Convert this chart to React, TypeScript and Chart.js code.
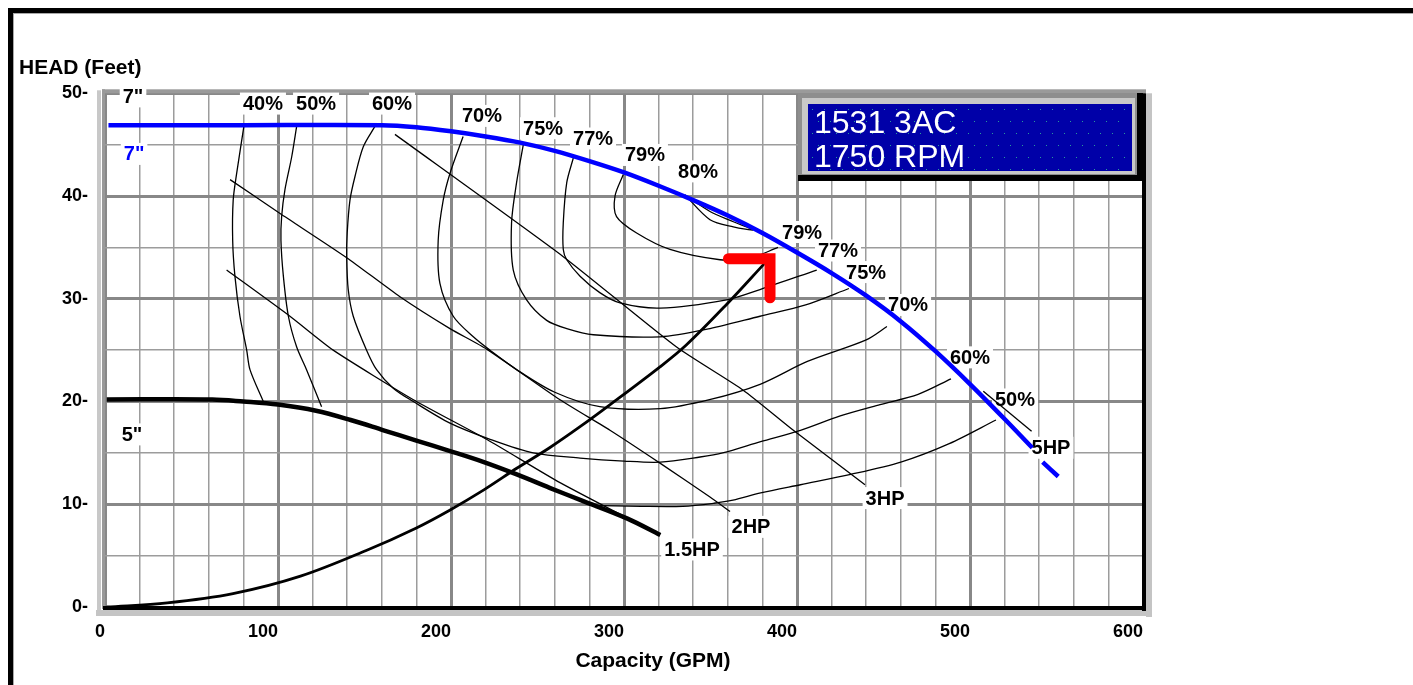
import React, { useEffect, useRef } from 'react';
import { Chart, registerables } from 'chart.js';

Chart.register(...registerables);

type Pt = [number, number | null];

// Axis tick labels
const xTickLabels = [0, 100, 200, 300, 400, 500, 600];
const yTickLabels = [0, 10, 20, 30, 40, 50];

// Impeller curves (GPM, Feet)
const impeller7: Pt[] = [[2, 46.9], [80, 46.9], [160, 46.9], [180, 46.7], [200, 46.3], [220, 45.8], [240, 45.2], [260, 44.4], [280, 43.4], [300, 42.3], [320, 41.0], [340, 39.6], [360, 38.1], [380, 36.4], [400, 34.5], [420, 32.5], [440, 30.3], [460, 27.8], [480, 24.9], [500, 21.7], [520, 18.3], [536, 15.5], [539, null], [542, 14.1], [551, 12.7]];
const impeller5: Pt[] = [[1, 20.2], [62, 20.2], [80, 20.0], [100, 19.7], [122, 19.1], [142, 18.2], [161, 17.2], [180, 16.2], [199, 15.2], [219, 14.1], [238, 12.9], [257, 11.6], [275, 10.4], [302, 8.6], [321, 7.0]];
const systemCurve: Pt[] = [[1, 0], [36, 0.4], [74, 1.3], [113, 3.0], [151, 5.5], [180, 7.7], [199, 9.4], [219, 11.4], [238, 13.5], [257, 15.5], [275, 17.6], [292, 19.7], [321, 23.4], [336, 25.5], [359, 29.4], [381, 33.4]];
const dutyPoint: Pt[] = [[360.4, 33.9], [384.4, 33.9], [384.4, 30.1]];

// Power lines
const hp15: Pt[] = [[70.3, 32.8], [106.9, 28.3], [131.9, 25.0], [178, 20.2], [220.8, 16.3], [263, 12.1], [320.8, 7.0]];
const hp2: Pt[] = [[72.3, 41.6], [101.2, 38.3], [139.7, 34.0], [170.5, 30.2], [199.4, 27.1], [220.6, 25.1], [262.8, 20.2], [291.9, 17.2], [320.8, 14.0], [349.7, 10.7], [361.3, 9.3]];
const hp3: Pt[] = [[167.6, 46.0], [264.9, 34.1], [330.4, 25.3], [368.9, 21.1], [397.9, 17.2], [439.3, 11.9]];
const hp5: Pt[] = [[507.7, 21.0], [535.6, 17.1]];

// Efficiency contours
const eff40: Pt[] = [[80.3, 46.8], [76.1, 42.2], [74.1, 39.6], [73.8, 35.7], [75.1, 32.2], [78.0, 28.3], [81.9, 25.0], [83.8, 23.1], [91.5, 20.0]];
const eff50Left: Pt[] = [[110.8, 46.8], [107.9, 43.8], [104.0, 40.6], [102.1, 38.0], [101.7, 35.7], [103.1, 32.2], [106.0, 28.3], [110.8, 25.3], [116.5, 23.1], [125.2, 19.5]];
const eff50Right: Pt[] = [[280, 9.9], [310, 9.8], [334, 9.8], [352, 10.1], [363, 10.4], [379, 11.1], [402, 11.9], [431, 12.9], [460, 14.1], [488, 15.9], [515, 18.2]];
const eff60: Pt[] = [[156.1, 46.8], [149.3, 44.8], [144.5, 41.9], [141.6, 39.6], [140.0, 36.4], [139.7, 34.1], [140.6, 30.9], [143.5, 28.3], [151.2, 25.0], [157.0, 23.1], [166.6, 21.3], [178.2, 20.0], [199.4, 17.9], [223, 16.3], [247.5, 15.0], [274.6, 14.5], [300, 14.2], [321, 14.1], [344, 14.6], [357, 15.0], [379, 16.1], [402, 17.2], [425, 18.6], [448, 19.7], [470, 20.7], [489, 22.2]];
const eff70: Pt[] = [[207, 45.8], [199.4, 42.2], [195.5, 39.6], [192.6, 35.7], [193.6, 31.5], [201.3, 28.3], [212.9, 26.3], [222.5, 25.0], [238, 23.1], [260, 20.9], [286, 19.5], [321, 19.3], [350, 20.2], [379, 21.7], [406, 23.9], [440, 26.0], [452, 27.3]];
const eff75: Pt[] = [[241.8, 45.0], [237.9, 41.3], [235.0, 37.4], [236.0, 32.8], [243.7, 29.9], [255.3, 27.9], [266.9, 27.1], [282.3, 26.5], [320.8, 26.3], [349.7, 27.1], [378.6, 28.3], [405, 29.4], [430, 31.0]];
const eff77: Pt[] = [[270.7, 43.7], [266.9, 41.3], [264.9, 37.4], [264.9, 34.8], [266.9, 33.8], [274.6, 32.2], [286, 30.6], [297.7, 29.6], [320.8, 29.1], [359.3, 29.9], [378.6, 30.9], [411.4, 32.8]];
const eff79: Pt[] = [[299.6, 42.1], [294.8, 40.0], [295.7, 38.0], [307.3, 36.4], [326.6, 34.8], [355.5, 33.8], [372, 33.9], [389, 35.0]];
const eff80: Pt[] = [[335.3, 40.1], [349.7, 37.7], [363.2, 37.0], [374.6, 36.7], [363.2, 37.5], [349.7, 38.5], [335.3, 40.1]];

// Curve annotations (text, GPM, Feet)
const labelTexts = ['40%', '50%', '60%', '70%', '75%', '77%', '79%', '80%', '79%', '77%', '75%', '70%', '60%', '50%', '5HP', '3HP', '2HP', '1.5HP', '7"', '7"', '5"'];
const labelGpm = [91.3, 122.0, 165.9, 217.9, 253.2, 282.1, 312.1, 342.8, 402.9, 423.7, 439.9, 464.2, 500.0, 526.0, 546.8, 450.9, 373.4, 339.3, 16.2, 16.8, 15.6];
const labelFeet = [49.0, 49.0, 49.0, 47.8, 46.6, 45.6, 44.0, 42.4, 36.5, 34.7, 32.6, 29.4, 24.3, 20.2, 15.5, 10.6, 7.8, 5.6, 49.7, 44.1, 16.8];
const labelColors = ['#000', '#000', '#000', '#000', '#000', '#000', '#000', '#000', '#000', '#000', '#000', '#000', '#000', '#000', '#000', '#000', '#000', '#000', '#000', '#0000ff', '#000'];

const titleLines = ['1531 3AC', '1750 RPM'];
const yTitle = 'HEAD (Feet)';
const xTitle = 'Capacity (GPM)';

const FONT = '"Liberation Sans", Arial, sans-serif';

const line = (arr: Pt[], color: string, width: number, tension = 0.3, extra: any = {}) => ({
  data: arr.map(([x, y]) => ({ x, y })),
  showLine: true,
  borderColor: color,
  backgroundColor: color,
  borderWidth: width,
  pointRadius: 0,
  pointHoverRadius: 0,
  tension,
  fill: false,
  ...extra,
});

const decor = {
  id: 'decor',
  beforeDraw(chart: any) {
    const { ctx, width, height } = chart;
    ctx.save();
    ctx.fillStyle = '#fff';
    ctx.fillRect(0, 0, width, height);
    ctx.restore();
  },
  beforeDatasetsDraw(chart: any) {
    const { ctx, chartArea, scales } = chart;
    const { left, right, top, bottom } = chartArea;
    ctx.save();
    // plot borders
    ctx.fillStyle = '#c8c8c8';
    ctx.fillRect(left - 8, top - 3, 4, bottom - top + 8);
    ctx.fillStyle = '#9a9a9a';
    ctx.fillRect(left - 3, top - 4, 3, bottom - top + 6);
    ctx.fillRect(left - 3, top - 4, right - left + 6, 4);
    ctx.fillStyle = '#c4c4c4';
    ctx.fillRect(right + 3, top, 6, bottom - top + 10);
    ctx.fillRect(left - 9, bottom + 3, right - left + 18, 6);
    ctx.fillStyle = '#000';
    ctx.fillRect(right - 1, top, 4, bottom - top + 4);
    ctx.fillRect(left - 2, bottom - 1, right - left + 5, 4);
    // annotations
    ctx.font = `bold 20px ${FONT}`;
    ctx.textAlign = 'center';
    ctx.textBaseline = 'middle';
    labelTexts.forEach((t, i) => {
      const px = scales.x.getPixelForValue(labelGpm[i]);
      const py = scales.y.getPixelForValue(labelFeet[i]);
      const w = ctx.measureText(t).width;
      ctx.fillStyle = '#fff';
      ctx.fillRect(px - w / 2 - 3, py - 11, w + 6, 22);
      ctx.fillStyle = labelColors[i];
      ctx.fillText(t, px, py + 1);
    });
    ctx.restore();
  },
  afterDraw(chart: any) {
    const { ctx } = chart;
    ctx.save();
    // model box
    ctx.fillStyle = '#000';
    ctx.fillRect(798, 93, 345, 88);
    ctx.fillStyle = '#8e8e8e';
    ctx.fillRect(798, 93, 339, 82);
    ctx.fillStyle = '#c8c8c8';
    ctx.fillRect(802, 98, 333, 76);
    ctx.fillStyle = '#0000a8';
    ctx.fillRect(808, 104, 324, 67);
    ctx.fillStyle = '#2a9a9a';
    let row = 0;
    for (let yy = 109; yy < 170; yy += 12, row++) {
      for (let xx = 812 + (row % 2) * 6; xx < 1130; xx += 12) ctx.fillRect(xx, yy, 1, 1);
    }
    ctx.fillStyle = '#fff';
    ctx.font = `32px ${FONT}`;
    ctx.textAlign = 'left';
    ctx.textBaseline = 'alphabetic';
    ctx.fillText(titleLines[0], 814, 133);
    ctx.fillText(titleLines[1], 814, 167);
    // axis titles
    ctx.fillStyle = '#000';
    ctx.font = `bold 21px ${FONT}`;
    ctx.textBaseline = 'middle';
    ctx.textAlign = 'left';
    ctx.fillText(yTitle, 19, 68);
    ctx.textAlign = 'center';
    ctx.fillText(xTitle, 653, 661);
    // outer frame
    ctx.fillStyle = '#000';
    ctx.fillRect(8, 8, 1405, 5);
    ctx.fillRect(8, 8, 5, 677);
    ctx.fillStyle = '#a8a8a8';
    ctx.fillRect(13, 13, 1400, 1);
    ctx.fillRect(13, 13, 1, 672);
    ctx.restore();
  },
};

export default function App() {
  const ref = useRef<HTMLCanvasElement>(null);
  useEffect(() => {
    document.body.style.margin = '0';
    document.body.style.background = '#fff';
    const thin = 1.3;
    const chart = new Chart(ref.current as HTMLCanvasElement, {
      type: 'scatter',
      data: {
        datasets: [
          line(impeller7, '#0000ff', 4.5, 0.3),
          line(dutyPoint, '#ff0000', 11, 0, { borderCapStyle: 'round', borderJoinStyle: 'miter' }),
          line(impeller5, '#000', 4.5, 0.35),
          line(systemCurve, '#000', 2.8, 0.35),
          line(hp15, '#000', thin, 0.2),
          line(hp2, '#000', thin, 0.2),
          line(hp3, '#000', thin, 0.2),
          line(hp5, '#000', thin, 0),
          line(eff40, '#000', thin),
          line(eff50Left, '#000', thin),
          line(eff50Right, '#000', thin),
          line(eff60, '#000', thin),
          line(eff70, '#000', thin),
          line(eff75, '#000', thin),
          line(eff77, '#000', thin),
          line(eff79, '#000', thin),
          line(eff80, '#000', thin),
        ] as any,
      },
      options: {
        responsive: false,
        animation: false,
        devicePixelRatio: 1,
        layout: { padding: { top: 93.3, right: 270, left: 0, bottom: 0 } },
        plugins: { legend: { display: false }, tooltip: { enabled: false } },
        scales: {
          x: {
            type: 'linear',
            min: 0,
            max: 600,
            afterFit: (s: any) => { s.height = 78; },
            border: { display: false },
            grid: {
              drawTicks: false,
              color: (c: any) => (c.tick && c.tick.value % 100 === 0 ? '#888' : '#9c9c9c'),
              lineWidth: (c: any) => (c.tick && c.tick.value % 100 === 0 ? 3 : 1.5),
            },
            ticks: {
              stepSize: 20,
              autoSkip: false,
              maxRotation: 0,
              align: 'end',
              padding: 14,
              color: '#000',
              font: { family: FONT, size: 18, weight: 'bold' },
              callback: (v: any) => (xTickLabels.includes(Number(v)) ? String(v) : ''),
            },
          },
          y: {
            type: 'linear',
            min: 0,
            max: 50,
            afterFit: (s: any) => { s.width = 105; },
            border: { display: false },
            grid: {
              drawTicks: false,
              color: (c: any) => (c.tick && c.tick.value % 10 === 0 ? '#888' : '#9c9c9c'),
              lineWidth: (c: any) => (c.tick && c.tick.value % 10 === 0 ? 3 : 1.5),
            },
            ticks: {
              stepSize: 5,
              autoSkip: false,
              padding: 17,
              color: '#000',
              font: { family: FONT, size: 18, weight: 'bold' },
              callback: (v: any) => (yTickLabels.includes(Number(v)) ? `${v}-` : ''),
            },
          },
        },
      } as any,
      plugins: [decor],
    });
    return () => chart.destroy();
  }, []);
  return (
    <div style={{ width: 1413, height: 685, overflow: 'hidden' }}>
      <canvas ref={ref} width={1413} height={685} style={{ display: 'block', width: 1413, height: 685 }} />
    </div>
  );
}
